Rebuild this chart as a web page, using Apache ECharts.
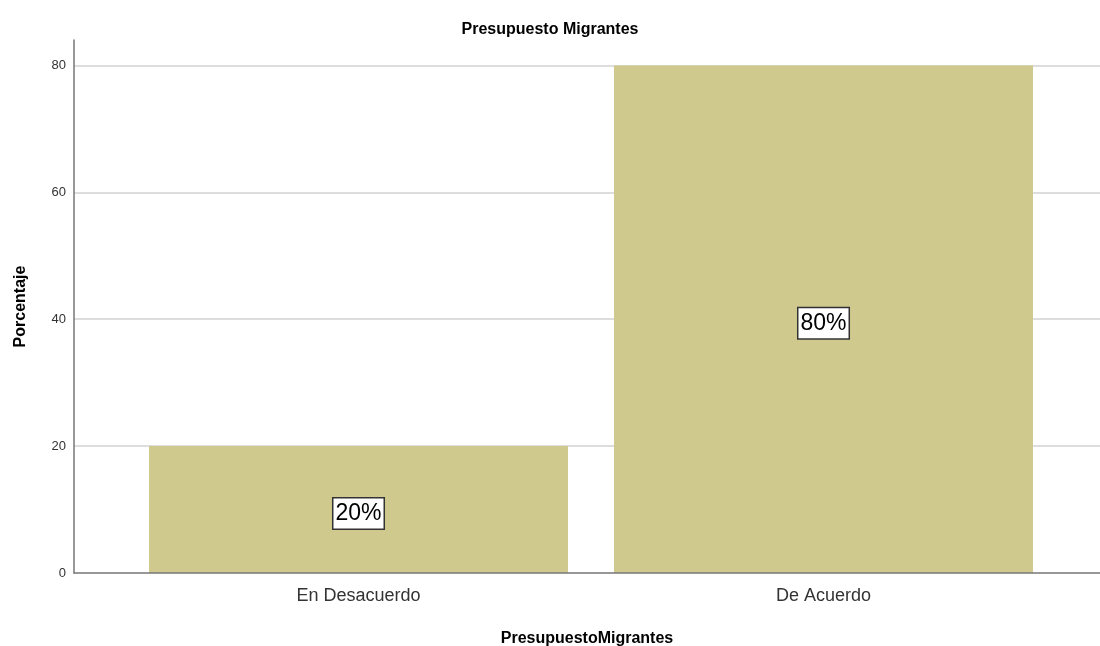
<!DOCTYPE html>
<html><head><meta charset="utf-8">
<script src="https://cdn.jsdelivr.net/npm/echarts@6/dist/echarts.min.js"></script>
<style>html,body{margin:0;padding:0;background:#fff}#c{width:1100px;height:646px}</style>
</head><body><div id="c"></div>
<script>
const categories = ['En Desacuerdo', 'De Acuerdo'];
const values = [20, 80];
const yTicks = [0, 20, 40, 60, 80];
const yMax = 84;

const font = '"Liberation Sans", Arial, sans-serif';
const chart = echarts.init(document.getElementById('c'));
chart.setOption({
  backgroundColor: '#fff',
  animation: false,
  title: {
    text: 'Presupuesto Migrantes', left: 'center', top: 17,
    textStyle: { fontFamily: font, fontSize: 16, fontWeight: 'bold', color: '#000' }
  },
  grid: [
    { left: 74, right: 0, top: 40, bottom: 73, outerBoundsMode: 'none', containLabel: false },
    { left: 126, right: 44, top: 40, bottom: 73, outerBoundsMode: 'none', containLabel: false }
  ],
  xAxis: [
    { type: 'category', gridIndex: 0, data: categories, boundaryGap: true, z: 5,
      axisLine: { lineStyle: { color: '#777', width: 1.5 } },
      axisTick: { show: false }, axisLabel: { show: false },
      name: 'PresupuestoMigrantes', nameLocation: 'middle', nameGap: 58,
      nameTextStyle: { fontFamily: font, fontSize: 16, fontWeight: 'bold', color: '#000' } },
    { type: 'category', gridIndex: 1, data: categories,
      axisLine: { show: false }, axisTick: { show: false },
      axisLabel: { fontFamily: font, fontSize: 18, color: '#333', margin: 14 } }
  ],
  yAxis: [
    { type: 'value', gridIndex: 0, min: yTicks[0], max: yMax, interval: 20,
      axisLine: { show: true, lineStyle: { color: '#777', width: 1.5 } },
      axisTick: { show: false },
      axisLabel: { fontFamily: font, fontSize: 13, color: '#333', margin: 8, showMaxLabel: false,
        formatter: v => yTicks.includes(v) ? String(v) : '' },
      splitLine: { show: true, showMinLine: false, showMaxLine: false, lineStyle: { color: '#d2d2d2', width: 1.5 } },
      name: 'Porcentaje', nameLocation: 'middle', nameGap: 45, nameRotate: 90,
      nameTextStyle: { fontFamily: font, fontSize: 16, fontWeight: 'bold', color: '#000' } },
    { type: 'value', gridIndex: 1, min: yTicks[0], max: yMax, interval: 20, show: false,
      splitLine: { show: false } }
  ],
  series: [{
    type: 'bar', xAxisIndex: 1, yAxisIndex: 1, data: values, barWidth: '90.1%',
    itemStyle: { color: '#CFC98D' },
    label: { show: true, position: 'inside', formatter: '{c}%', offset: [0, 4],
      fontFamily: font, fontSize: 23, color: '#000',
      backgroundColor: '#fff', borderColor: '#333', borderWidth: 1.5, padding: [4, 2, 3, 2] }
  }]
});
</script></body></html>
